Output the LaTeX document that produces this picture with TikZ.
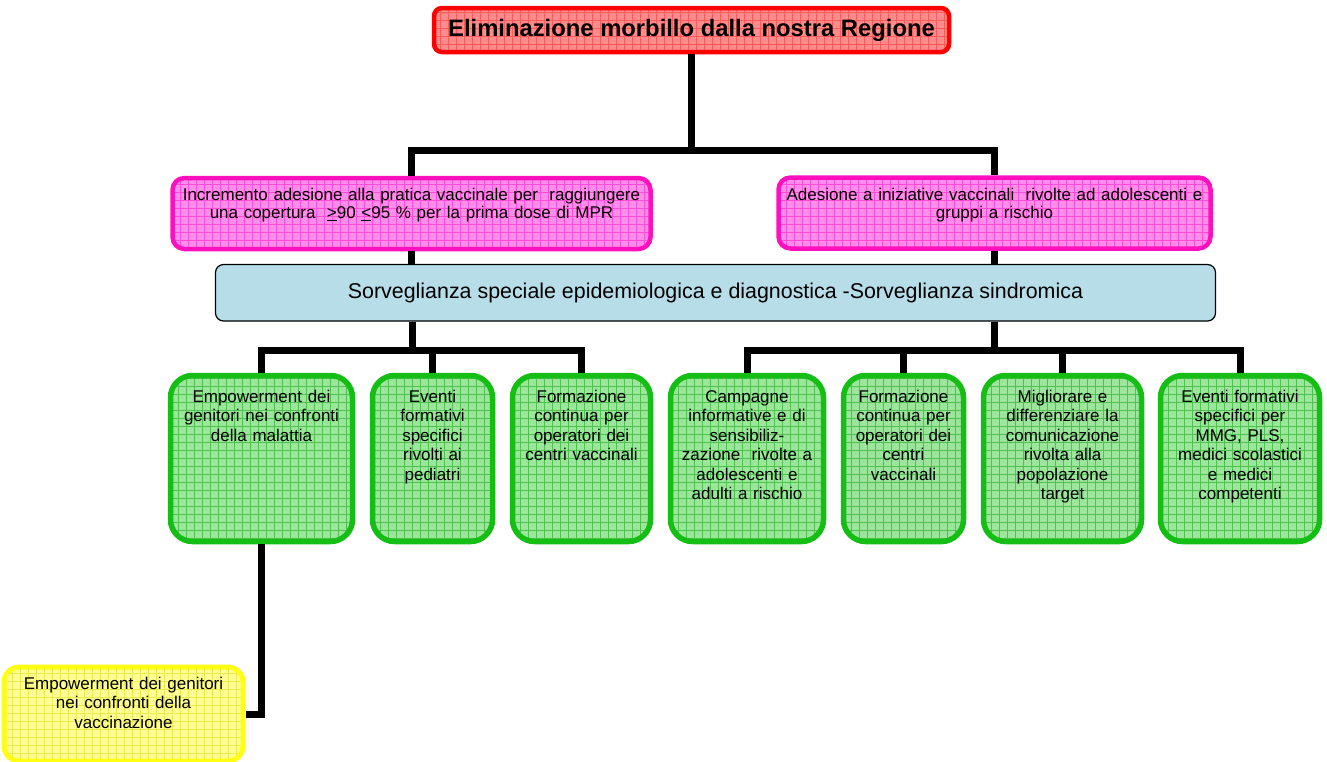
\documentclass[tikz,border=0pt]{standalone}
\usepackage{fontspec}
\setmainfont{Liberation Sans}
\usepackage{xcolor}
\usetikzlibrary{positioning}

\definecolor{goalred}{HTML}{FF0000}
\definecolor{goalfill}{HTML}{FF8C8C}
\definecolor{goalgrid}{HTML}{FF5A5A}
\definecolor{aimpink}{HTML}{FF10BE}
\definecolor{aimfill}{HTML}{FF8EEA}
\definecolor{aimgrid}{HTML}{FF4CD6}
\definecolor{sorvblue}{HTML}{B7DEE8}
\definecolor{actgreen}{HTML}{14BE14}
\definecolor{actfill}{HTML}{9BE69B}
\definecolor{actgrid}{HTML}{50C050}
\definecolor{vaccyel}{HTML}{FFFF14}
\definecolor{vaccfill}{HTML}{FFFF96}
\definecolor{vaccgrid}{HTML}{EAEA50}

\begin{document}
\begin{tikzpicture}[x=1pt,y=-1pt,
gridfill/.style={path picture={\draw[#1,line width=.5pt,step=8pt]
    (path picture bounding box.south west) grid (path picture bounding box.north east);}},
box/.style={draw,rectangle,inner sep=0pt,align=center,
    font=\fontsize{17}{19.5}\selectfont},
goal/.style={box,line width=4.5pt,draw=goalred,fill=goalfill,gridfill=goalgrid,
    rounded corners=8pt,minimum width=515pt,minimum height=44pt,
    font=\bfseries\fontsize{23.8}{26}\selectfont},
aim/.style={box,line width=4.5pt,draw=aimpink,fill=aimfill,gridfill=aimgrid,
    rounded corners=12pt,text height=22.5pt,text depth=48.5pt,
    font=\fontsize{17}{18.3}\selectfont},
sorv/.style={box,line width=1.2pt,draw=black,fill=sorvblue,rounded corners=8pt,
    minimum width=1000pt,minimum height=56.5pt,font=\fontsize{21.4}{24}\selectfont},
act/.style={box,line width=5.5pt,draw=actgreen,fill=actfill,gridfill=actgrid,
    rounded corners=22pt,text height=26.5pt,text depth=139.5pt},
vacc/.style={box,line width=5pt,draw=vaccyel,fill=vaccfill,gridfill=vaccgrid,
    rounded corners=15pt,text height=22pt,text depth=72pt,text width=239pt},
link/.style={draw,line width=7pt}]
\useasboundingbox (0,0) rectangle (1327,761);

\node (goal) [goal] at (691.5,30) {Eliminazione morbillo dalla nostra Regione};

\node (pl) [aim,text width=478pt] at (411.5,213.5)
    {Incremento adesione alla pratica vaccinale per\ \ raggiungere\\
     una copertura\ \ \underline{>}90 \underline{<}95 \% per la prima dose di MPR};
\node (pr) [aim,text width=432pt] at (994.5,213)
    {Adesione a iniziative vaccinali\ \ rivolte ad adolescenti e\\gruppi a rischio};

\node (sorv) [sorv] at (715.5,292.75)
    {Sorveglianza speciale epidemiologica e diagnostica -Sorveglianza sindromica};

% azioni
\node (a1) [act,text width=182pt] at (261.5,458.5)
    {Empowerment dei\\genitori nei confronti\\della malattia};
\node (a2) [act,text width=120pt] at (432.5,458.5)
    {Eventi\\formativi\\specifici\\rivolti ai\\pediatri};
\node (a3) [act,text width=138pt] at (581.5,458.5)
    {Formazione\\continua per\\operatori dei\\centri vaccinali};
\node (a4) [act,text width=153pt] at (747,458.5)
    {Campagne\\informative e di\\sensibiliz-\\zazione\ \ rivolte a\\adolescenti e\\adulti a rischio};
\node (a5) [act,text width=120pt] at (903.5,458.5)
    {Formazione\\continua per\\operatori dei\\centri\\vaccinali};
\node (a6) [act,text width=158pt] at (1062.5,458.5)
    {Migliorare e\\differenziare la\\comunicazione\\rivolta alla\\popolazione\\target};
\node (a7) [act,text width=159pt] at (1240,458.5)
    {Eventi formativi\\specifici per\\MMG, PLS,\\medici scolastici\\e medici\\competenti};

\node (vacc) [vacc] at (123.5,714)
    {Empowerment dei genitori\\nei confronti della\\vaccinazione};

% collegamenti
\coordinate (topj) at (691.5,150);
\coordinate (lj) at (412,350);
\coordinate (rj) at (994,350);
\draw[link] (goal) -- (topj);
\draw[link] (pl) |- (topj) -| (pr);
\draw[link] (pl) -- (pl |- sorv.north);
\draw[link] (pr) -- (pr |- sorv.north);
\draw[link] (sorv.south -| lj) -- (lj);
\draw[link] (a1) |- (lj) -| (a3);
\draw[link] (a2) -- (a2 |- lj);
\draw[link] (sorv.south -| rj) -- (rj);
\draw[link] (a4) |- (rj) -| (a7);
\draw[link] (a5) -- (a5 |- rj);
\draw[link] (a6) -- (a6 |- rj);
\draw[link] (a1) |- (vacc);
\end{tikzpicture}
\end{document}
